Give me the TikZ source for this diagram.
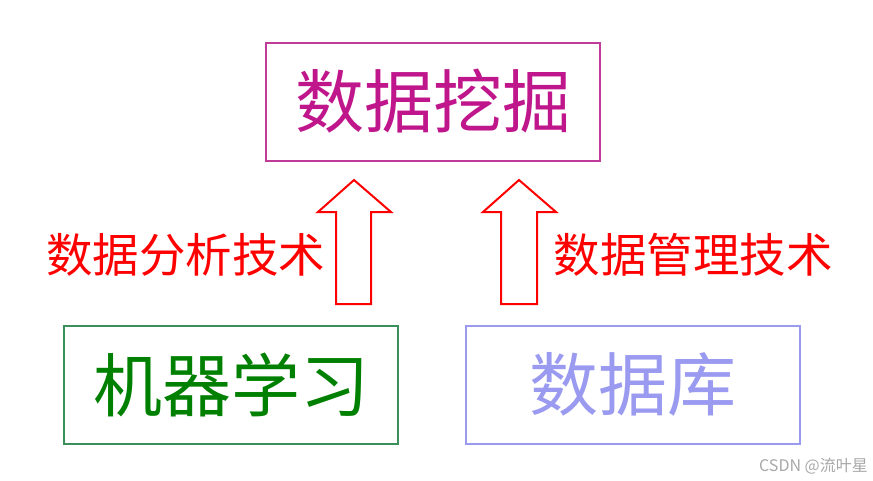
\documentclass[tikz,border=0pt]{standalone}
\usepackage{fontspec}
\newfontfamily\cjk{Noto Sans CJK SC}
\definecolor{topc}{HTML}{C0168C}
\definecolor{topb}{HTML}{C03A9A}
\definecolor{mlc}{HTML}{008000}
\definecolor{mlb}{HTML}{3A8F5A}
\definecolor{dbc}{HTML}{9A9AF0}
\definecolor{arr}{HTML}{FF0000}
\definecolor{wm}{HTML}{A8A8A8}
\tikzset{
  box/.style={draw, line width=2pt, minimum width=334pt, minimum height=118pt, inner sep=0pt},
  bigtext/.style={font=\cjk\fontsize{69}{69}\selectfont},
  lbl/.style={font=\cjk\fontsize{46.5}{46.5}\selectfont, text=arr, inner sep=0pt},
  blockarrow/.style={draw=arr, line width=2pt, line join=miter}
}
\begin{document}
\begin{tikzpicture}[x=1pt,y=-1pt]
\useasboundingbox (0,0) rectangle (873,480);
\fill[white] (0,0) rectangle (873,480);
\node[box, draw=topb, text=topc, bigtext] (dm) at (433,101.5) {数据挖掘};
\node[box, draw=mlb, text=mlc, bigtext] (ml) at (231,384.5) {机器学习};
\node[box, draw=dbc, text=dbc, bigtext] (db) at (633,384.5) {数据库};
\node[lbl] (la) at (185.5,255) {数据分析技术};
\node[lbl] (lb) at (693,255) {数据管理技术};
\draw[blockarrow] (336,304) -- (336,212) -- (318,212) -- (354,180) -- (391,212) -- (371,212) -- (371,304) -- cycle;
\draw[blockarrow] (501,304) -- (501,212) -- (483,212) -- (519,180) -- (556,212) -- (537,212) -- (537,304) -- cycle;
\node[font=\cjk\fontsize{16}{16}\selectfont, text=wm, anchor=east, inner sep=0pt] (wmk) at (868,466) {CSDN @流叶星};
\end{tikzpicture}
\end{document}
